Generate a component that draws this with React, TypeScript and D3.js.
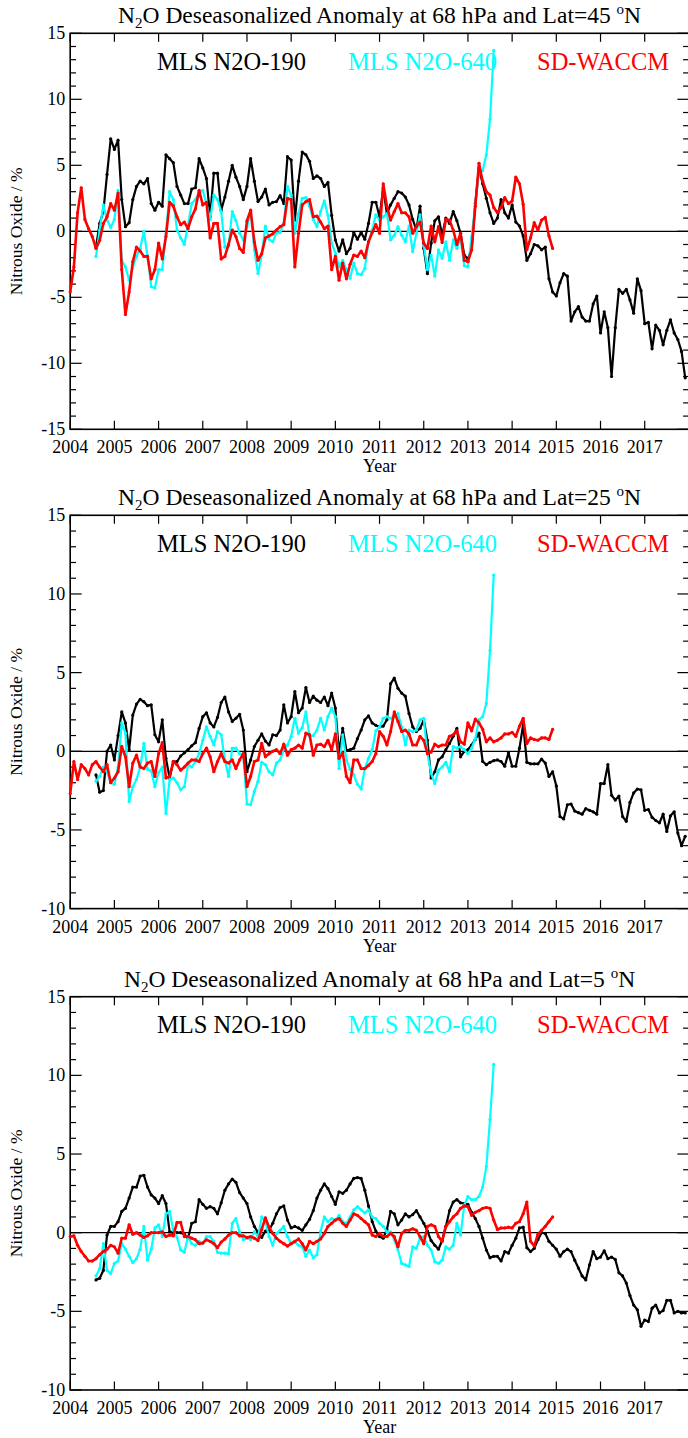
import React from 'react';
import * as d3 from 'd3';

// ---- axis ticks ----
const yearTicks = [2004, 2005, 2006, 2007, 2008, 2009, 2010, 2011, 2012, 2013, 2014, 2015, 2016, 2017];

// month index 0 = Jan 2004
const blackStart = 7;
const cyanStart = 7;
const redStart = 0;

// ---- Panel 1: Lat = 45N ----
const p1Black = [
  -1.2, 0.6, 1.5, 4.3, 7.0, 6.2, 6.9, 2.4, 0.35, 0.65,
  2.4, 3.4, 3.8, 3.6, 4.0, 2.1, 1.6, 2.2, 1.9, 5.8,
  5.5, 5.2, 3.4, 2.75, 2.1, 2.1, 3.2, 3.3, 5.5, 4.8,
  4.0, 1.1, 4.4, 4.4, 1.6, 2.6, 3.8, 5.0, 4.1, 3.4,
  2.4, 3.4, 5.5, 3.8, 2.25, 2.6, 3.2, 2.0, 2.2, 2.25,
  2.7, 2.1, 5.65, 5.4, 0.85, 3.8, 6.0, 5.8, 5.3, 4.0,
  4.2, 4.0, 3.4, 3.7, 1.2, -0.65, -1.5, -0.65, -1.7, -1.3,
  -0.1, -0.6, -0.1, -0.6, 0.6, 2.2, 2.2, 1.1, 3.25, 1.35,
  2.0, 2.5, 3.0, 2.9, 2.6, 2.0, 0.9, 0.1, 1.9, -1.3,
  -3.2, -0.9, 0.8, 1.1, -0.3, 1.0, 0.6, 1.5, 0.8, -0.15,
  -1.8, -2.1, -1.4, 2.1, 4.8, 3.6, 2.5, 1.4, 0.6, 1.0,
  2.4, 1.4, 1.0, 2.0, 0.7, 0.4, -0.35, -2.2, -1.7, -1.0,
  -1.1, -1.4, -1.2, -3.6, -4.6, -4.9, -3.9, -3.2, -3.4, -6.8,
  -6.1, -5.7, -6.5, -6.8, -6.8, -5.5, -4.9, -7.7, -6.1, -7.3,
  -11.0, -7.3, -4.4, -4.7, -4.4, -5.2, -6.2, -3.6, -4.5, -7.0,
  -6.9, -8.9, -7.1, -7.5, -8.6, -7.5, -6.7, -7.7, -8.2, -9.1,
  -11.1,
];
const p1Cyan = [
  -1.9, 0.1, 2.0, 0.85, 0.3, 0.9, 3.1, -2.2, -2.7, -3.7,
  -2.7, -1.9, -1.3, 0.0, -1.9, -4.2, -4.3, -2.9, -2.9, -0.15,
  3.0, 2.4, 0.1, -0.5, -1.0, 0.5, 2.1, 2.4, 2.9, 3.1,
  2.1, 0.9, 2.75, 2.4, 1.5, -1.2, -1.1, 1.5, 0.8, -0.15,
  -0.65, 0.35, 1.5, -1.4, -3.2, -1.8, 0.4, -0.6, -0.8, -0.1,
  -0.1, 0.6, 3.4, 2.75, -0.15, 1.35, 2.5, 2.55, 1.9, 0.9,
  0.35, 1.5, 2.3, 1.2, -0.9, -1.65, -2.7, -2.2, -2.9, -3.55,
  -2.4, -3.2, -3.3, -2.8, -0.8, 0.1, 1.25, 0.85, 1.1, 1.35,
  -0.65, -0.3, 0.35, -0.3, -0.8, 0.4, -1.55, -0.15, 1.25, -1.05,
  -2.9, -1.8, -3.4, -1.4, -2.05, -0.8, -2.2, -0.65, -1.3, -0.5,
  -2.6, -2.7, -0.4, 2.0, 4.5, 4.6, 5.8, 8.5, 13.7,
];
const p1Red = [
  -4.6, -2.7, 1.4, 3.3, 0.9, 0.2, -0.4, -1.3, -0.7, 0.6,
  1.1, 2.1, 1.6, 2.9, -2.9, -6.3, -4.6, -2.3, -1.2, -1.5,
  -1.9, -1.9, -3.6, -2.9, -0.9, -2.1, -0.4, 2.2, 1.9, 1.1,
  0.5, 0.7, 0.2, 1.1, 1.7, 3.1, 2.0, 2.2, -0.5, 0.6,
  0.6, -2.1, -1.9, -1.0, 0.1, -0.4, -1.3, -1.6, 0.8, 1.6,
  -0.8, -2.2, -1.7, -0.5, -0.35, -0.2, 0.1, 0.35, 0.5, 2.5,
  2.4, -2.7, -0.15, 2.0, 2.25, 2.4, 1.1, 1.15, 0.7, 0.2,
  0.4, -2.9, -1.9, -3.7, -2.4, -3.6, -2.5, -1.8, -1.9, -1.5,
  -2.0, -0.8, -0.1, 0.5, -0.15, 3.6, 1.9, 0.85, 1.5, 2.1,
  1.4, 1.4, 1.1, -0.15, 0.35, 0.7, -0.9, -1.3, 0.4, -0.8,
  0.35, -0.85, 0.9, 0.85, 0.1, -1.0, -0.15, -2.2, -2.3, -1.4,
  1.9, 5.15, 3.8, 3.0, 2.75, 1.8, 1.4, 1.8, 2.55, 2.1,
  2.3, 4.1, 3.6, 2.05, -1.4, -0.5, 0.65, 0.1, 0.85, 1.05,
  -0.35, -1.3,
];

// ---- Panel 2: Lat = 25N ----
const p2Black = [
  -1.5, -2.6, -2.5, 0.0, 0.4, -0.55, 1.0, 2.5, 1.8, 0.1,
  2.3, 3.0, 3.3, 3.15, 2.9, 2.95, 1.05, 0.6, 2.0, -0.45,
  -1.7, -0.65, -0.65, -0.3, -0.1, 0.1, 0.35, 0.55, 1.45, 2.2,
  2.45, 1.8, 1.55, 2.15, 3.1, 3.45, 2.5, 1.9, 2.1, 2.35,
  1.35, -1.3, -0.55, 0.3, 0.7, 1.1, 0.65, 0.4, 1.05, 1.0,
  1.35, 2.95, 1.8, 2.2, 3.8, 2.45, 2.75, 4.05, 3.1, 3.5,
  3.25, 3.1, 3.45, 2.9, 3.7, 2.75, -0.1, 1.45, 0.05, 0.1,
  0.2, 0.8, 1.35, 2.0, 2.25, 1.8, 1.65, 1.55, 1.6, 2.0,
  4.3, 4.65, 4.0, 3.7, 3.5, 2.4, 1.55, 1.25, 1.45, 2.0,
  0.7, -1.7, -1.3, -0.55, -0.35, 0.1, 0.5, 0.95, 1.45, -0.35,
  0.0, 0.1, 0.4, 0.75, 1.15, -0.65, -0.85, -0.7, -0.6, -0.55,
  -0.65, -0.95, -0.1, -0.95, -0.95, 0.2, 1.7, -0.7, -0.8, -0.8,
  -0.8, -0.5, -0.75, -1.6, -1.3, -2.2, -4.15, -4.3, -3.4, -3.35,
  -3.8, -3.9, -4.0, -3.65, -3.75, -3.85, -4.0, -2.05, -2.05, -0.85,
  -2.8, -3.1, -2.85, -4.15, -4.45, -3.25, -2.65, -2.4, -2.45, -3.75,
  -3.7, -4.2, -4.4, -4.55, -4.0, -5.1, -4.1, -3.85, -5.2, -6.0,
  -5.4,
];
const p2Cyan = [
  -1.9, -1.6, -1.0, -1.3, -2.0, -2.1, -1.0, 1.8, 1.15, -3.2,
  -2.25, -1.8, -1.0, 0.5, -1.15, -1.25, -2.25, -1.35, -1.0, -3.95,
  -1.8, -1.7, -2.0, -2.45, -2.25, -0.85, -1.0, -0.65, -0.15, 0.7,
  1.55, 0.95, 0.4, 1.25, 1.05, -0.55, -1.6, 0.2, 0.2, -0.15,
  -0.25, -3.35, -3.4, -2.55, -1.9, -0.7, -0.85, -1.3, -1.5, -0.75,
  -0.55, 0.1, 0.4, 0.95, 2.1, 1.15, 1.5, 2.5, 0.95, 1.0,
  1.35, 2.1, 1.35, 2.2, 2.75, 2.2, -1.1, 1.05, -0.55, -1.15,
  -1.5, -2.1, -2.4, -1.1, -0.45, 0.1, 1.3, 1.55, 2.1, 2.2,
  2.1, 2.2, 2.4, 1.55, 0.4, 1.35, 1.25, 1.35, 2.0, 2.1,
  -0.15, -1.4, -2.05, -1.2, -1.0, -0.7, -1.3, 0.3, 0.2, 0.3,
  0.1, -0.15, 0.2, 0.8, 2.0, 2.2, 3.05, 6.4, 11.2,
];
const p2Red = [
  -2.7, -0.65, -1.8, -0.85, -1.1, -1.5, -0.85, -0.65, -1.0, -1.3,
  -0.85, -2.0, -1.7, -1.3, 0.3, -0.35, -2.25, -0.75, -0.25, -1.0,
  -1.1, -0.75, -0.65, -1.6, -0.15, 0.55, -1.7, -1.6, -0.65, -0.85,
  -1.2, -1.0, -0.75, -0.55, -0.55, -0.65, -0.15, 0.2, -0.35, -1.3,
  -0.65, -0.15, -0.65, -0.75, -0.55, -1.1, -0.55, -0.15, -2.25, -1.6,
  -0.65, -0.55, 0.5, -0.35, -0.15, 0.0, 0.1, -0.15, 0.45, -0.25,
  0.1, 0.2, 0.4, 0.2, 1.15, 1.05, -0.25, 0.4, 0.45, 0.3,
  0.7, 0.1, 1.1, -0.45, -0.1, -1.6, -2.0, -0.55, -0.55, -1.1,
  -1.1, -0.9, -0.65, -0.15, 1.25, 0.95, 0.4, 1.25, 2.5, 1.9,
  1.25, 1.35, 1.1, 0.4, 0.4, 0.95, 0.7, -0.15, -0.05, 0.45,
  0.3, 0.4, 0.4, 0.95, 1.05, 1.3, 0.6, 0.45, 1.8, 1.3,
  2.05, 1.8, 1.4, 0.6, 0.85, 0.6, 0.7, 0.85, 1.1, 1.1,
  1.2, 0.95, 1.6, 2.1, 0.5, 0.85, 0.75, 0.7, 0.85, 0.85,
  0.75, 1.4,
];

// ---- Panel 3: Lat = 5N ----
const p3Black = [
  -3.0, -2.9, -2.4, -0.15, 0.4, 0.4, 0.7, 1.35, 1.55, 2.2,
  2.9, 2.9, 3.6, 3.65, 2.9, 2.4, 2.2, 1.85, 2.35, 1.85,
  0.05, 0.0, 0.0, 0.0, -0.1, -0.35, 0.6, 0.7, 2.1, 1.8,
  1.55, 1.65, 1.55, 1.2, 1.9, 2.7, 3.1, 3.4, 3.2, 2.55,
  2.2, 1.85, 1.0, 0.4, 0.0, -0.3, 0.1, 0.15, 0.6, 1.2,
  1.6, 1.7, 0.8, 0.3, 0.4, 0.3, 0.15, 0.5, 0.85, 1.4,
  2.2, 2.7, 3.1, 2.8, 2.3, 1.8, 2.6, 2.5, 2.7, 3.1,
  3.45, 3.5, 3.45, 2.7, 1.7, 0.7, 0.1, -0.25, -0.35, 0.2,
  1.35, 1.2, 0.5, 0.8, 1.2, 1.0, 1.15, 1.4, 1.0, 0.6,
  0.1, -0.5, -0.8, -1.05, -0.5, 0.4, 1.4, 1.95, 2.1, 1.9,
  1.85, 1.8, 1.3, 0.9, 0.4, -0.35, -1.1, -1.6, -1.5, -1.5,
  -1.8, -1.2, -1.3, -0.8, -0.35, 0.3, 0.35, -0.95, -1.2, -1.0,
  -0.45, 0.0, -0.05, -0.55, -0.8, -1.05, -1.5, -1.2, -1.05, -1.2,
  -1.75, -2.25, -2.75, -3.0, -2.05, -1.2, -1.65, -1.55, -1.15, -1.65,
  -1.55, -1.7, -2.55, -2.75, -3.2, -4.0, -4.6, -4.9, -5.95, -5.55,
  -5.65, -4.8, -4.6, -5.1, -4.95, -4.3, -4.3, -5.1, -5.0, -5.1,
  -5.1,
];
const p3Cyan = [
  -2.75, -2.3, -0.7, -2.4, -2.6, -1.95, -1.8, -0.7, -1.05, -1.5,
  -1.9, -1.65, -1.05, 0.4, -1.75, -1.05, 0.3, 0.5, -0.25, 1.2,
  1.35, 0.15, -0.3, -1.1, -1.25, -0.25, -0.7, -0.8, -0.55, -0.7,
  -0.25, -0.25, -0.55, -1.25, -1.3, -1.3, -1.35, 0.6, 0.9, 0.05,
  -0.45, -0.35, -0.45, 0.05, -0.25, 1.0, 0.7, -0.25, -0.8, -0.05,
  0.15, 0.4, -0.25, -0.7, -0.6, -0.8, -0.9, -1.5, -1.1, -1.6,
  -1.4, 0.1, 1.0, 0.7, 0.9, 0.8, 1.1, 0.7, 0.6, 1.0,
  1.45, 1.65, 1.45, 1.25, 1.45, 1.0, 0.9, 0.6, 0.4, 0.05,
  0.05, -0.45, -1.1, -1.95, -2.05, -2.15, -0.9, -1.0, -0.35, -0.25,
  -0.8, -1.1, -1.85, -1.95, -1.75, -0.9, -1.05, -0.8, 0.6, -0.15,
  1.75, 2.3, 2.1, 2.1, 2.3, 2.9, 4.2, 7.2, 10.7,
];
const p3Red = [
  -0.25, -0.2, -0.8, -1.2, -1.5, -1.8, -1.8, -1.65, -1.4, -1.2,
  -1.05, -0.8, -0.9, -1.3, -0.35, -0.35, 0.5, -0.1, 0.0, -0.15,
  -0.3, -0.2, 0.0, 0.0, 0.0, 0.05, -0.25, -0.15, -0.2, 0.65,
  0.65, -0.25, -0.25, -0.35, -0.45, -0.7, -0.65, -0.45, -0.55, -0.7,
  -0.95, -0.6, -0.4, -0.15, 0.0, 0.0, -0.2, -0.2, -0.3, -0.25,
  -0.35, -0.5, 0.2, 0.95, 0.35, -0.05, -0.35, -0.55, -0.7, -0.85,
  -0.7, -0.55, -0.4, -0.7, -1.1, -0.55, -0.7, -0.55, -0.4, -0.05,
  0.4, 0.6, 0.8, 0.9, 0.6, 0.4, 0.8, 1.2, 1.1, 0.9,
  0.7, 0.5, -0.15, -0.25, -0.05, -0.25, -0.25, -0.05, -0.25, -0.9,
  -0.05, 0.15, 0.15, 0.25, 0.15, -0.25, -0.7, 0.4, 0.5, 0.4,
  -0.25, -0.55, 0.4, 0.7, 1.0, 1.2, 1.55, 1.7, 1.65, 1.1,
  1.3, 1.4, 1.55, 1.6, 1.55, 0.8, 0.2, 0.3, 0.3, 0.35,
  0.3, 0.6, 0.7, 1.2, 1.95, -0.55, -0.85, -0.1, 0.15, 0.4,
  0.7, 1.0,
];

const legendLabels = ['MLS N2O-190', 'MLS N2O-640', 'SD-WACCM'];
const seriesColors = ['#000000', '#00ffff', '#ff0000'];

type PanelCfg = {
  lat: string;
  top: number;
  bottom: number;
  yDomain: [number, number];
  black: number[];
  cyan: number[];
  red: number[];
};

const panels: PanelCfg[] = [
  { lat: '45', top: 33.3, bottom: 429.3, yDomain: [-15, 15], black: p1Black, cyan: p1Cyan, red: p1Red },
  { lat: '25', top: 515.3, bottom: 908.6, yDomain: [-10, 15], black: p2Black, cyan: p2Cyan, red: p2Red },
  { lat: '5', top: 996.7, bottom: 1390, yDomain: [-10, 15], black: p3Black, cyan: p3Cyan, red: p3Red },
];

const FONT = "'Liberation Serif', 'Times New Roman', 'DejaVu Serif', serif";
const LEFT = 70.2;
const RIGHT = 688.9;

function toPoints(values: number[], start: number): [number, number][] {
  return values.map((v, i) => [2004 + (start + i) / 12, v]);
}

function Panel({ cfg }: { cfg: PanelCfg }) {
  const x = d3.scaleLinear().domain([2004, 2018]).range([LEFT, RIGHT]);
  const y = d3.scaleLinear().domain(cfg.yDomain).range([cfg.bottom, cfg.top]);
  const line = d3
    .line<[number, number]>()
    .x((d) => x(d[0]))
    .y((d) => y(d[1]));

  const minorTicks = d3.range(cfg.yDomain[0], cfg.yDomain[1] + 0.001, 1);
  const majorTicks = minorTicks.filter((t) => t % 5 === 0);
  const midY = (cfg.top + cfg.bottom) / 2;
  const midX = (LEFT + RIGHT) / 2;

  const series = [
    { pts: toPoints(cfg.black, blackStart), color: seriesColors[0], w: 2.2 },
    { pts: toPoints(cfg.cyan, cyanStart), color: seriesColors[1], w: 2.2 },
    { pts: toPoints(cfg.red, redStart), color: seriesColors[2], w: 2.6 },
  ];

  return (
    <g>
      {/* title */}
      <text x={midX} y={cfg.top - 10} textAnchor="middle" fontSize={23.5} fill="#000">
        N<tspan fontSize={15} dy={5}>2</tspan>
        <tspan dy={-5}>O Deseasonalized Anomaly at 68 hPa and Lat={cfg.lat} </tspan>
        <tspan fontSize={15} dy={-9}>o</tspan>
        <tspan dy={9}>N</tspan>
      </text>

      {/* zero line */}
      <line x1={LEFT} x2={RIGHT} y1={y(0)} y2={y(0)} stroke="#000" strokeWidth={1.2} />

      {/* frame */}
      <rect x={LEFT} y={cfg.top} width={RIGHT - LEFT} height={cfg.bottom - cfg.top} fill="none" stroke="#000" strokeWidth={1.6} />

      {/* y ticks */}
      {minorTicks.map((t) => {
        const major = t % 5 === 0;
        const len = major ? 11.5 : 5.8;
        return (
          <g key={'yt' + t}>
            <line x1={LEFT} x2={LEFT + len} y1={y(t)} y2={y(t)} stroke="#000" strokeWidth={1.2} />
            <line x1={RIGHT} x2={RIGHT - len} y1={y(t)} y2={y(t)} stroke="#000" strokeWidth={1.2} />
          </g>
        );
      })}
      {majorTicks.map((t) => (
        <text key={'yl' + t} x={LEFT - 5} y={y(t) + 6} textAnchor="end" fontSize={18} fill="#000">
          {t}
        </text>
      ))}

      {/* x ticks */}
      {yearTicks.map((yr) => (
        <g key={'xt' + yr}>
          <line x1={x(yr)} x2={x(yr)} y1={cfg.bottom} y2={cfg.bottom - 8.5} stroke="#000" strokeWidth={1.2} />
          <line x1={x(yr)} x2={x(yr)} y1={cfg.top} y2={cfg.top + 8.5} stroke="#000" strokeWidth={1.2} />
          <text x={x(yr)} y={cfg.bottom + 24} textAnchor="middle" fontSize={18} fill="#000">
            {yr}
          </text>
        </g>
      ))}

      {/* axis titles */}
      <text x={midX} y={cfg.bottom + 43} textAnchor="middle" fontSize={18} fill="#000">
        Year
      </text>
      <text transform={`translate(22, ${midY}) rotate(-90)`} textAnchor="middle" fontSize={17.5} fill="#000">
        Nitrous Oxide / %
      </text>

      {/* legend */}
      <text x={157} y={cfg.top + 36.7} fontSize={24.5} fill={seriesColors[0]}>
        {legendLabels[0]}
      </text>
      <text x={348} y={cfg.top + 36.7} fontSize={24.5} fill={seriesColors[1]}>
        {legendLabels[1]}
      </text>
      <text x={537} y={cfg.top + 36.7} fontSize={24.5} fill={seriesColors[2]}>
        {legendLabels[2]}
      </text>

      {/* data */}
      {series.map((s, i) => (
        <g key={'s' + i}>
          <path d={line(s.pts) || ''} fill="none" stroke={s.color} strokeWidth={s.w} strokeLinejoin="round" />
          {s.pts.map((p, j) => (
            <circle key={j} cx={x(p[0])} cy={y(p[1])} r={1.6} fill={s.color} />
          ))}
        </g>
      ))}
    </g>
  );
}

export default function App() {
  return (
    <svg
      width={688}
      height={1438}
      viewBox="0 0 688 1438"
      style={{ position: 'absolute', left: 0, top: 0, background: '#fff', fontFamily: FONT }}
    >
      <rect x={0} y={0} width={688} height={1438} fill="#fff" />
      {panels.map((p, i) => (
        <Panel key={i} cfg={p} />
      ))}
    </svg>
  );
}
